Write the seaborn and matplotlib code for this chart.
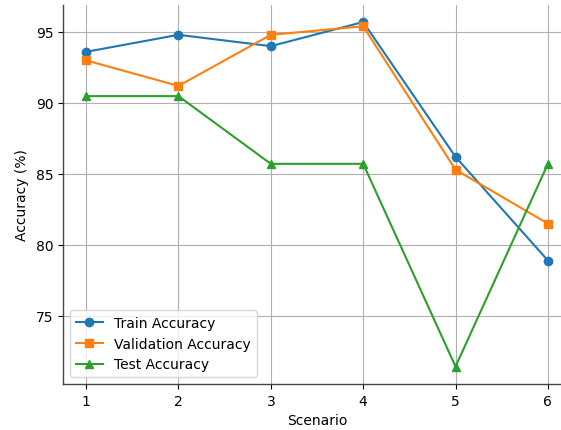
import matplotlib
matplotlib.use("Agg")
import matplotlib.pyplot as plt
import seaborn as sns
import pandas as pd

scenarios = [1, 2, 3, 4, 5, 6]
train_acc = [93.6, 94.8, 94.0, 95.7, 86.2, 78.9]
val_acc = [93.0, 91.2, 94.8, 95.4, 85.3, 81.5]
test_acc = [90.48, 90.48, 85.71, 85.71, 71.43, 85.71]
series_names = ["Train Accuracy", "Validation Accuracy", "Test Accuracy"]
series_markers = ["o", "s", "^"]
series_colors = ["#1f77b4", "#ff7f0e", "#2ca02c"]

plt.rcParams['font.family'] = ['DejaVu Sans']
fig = plt.figure(figsize=(5.61, 4.31), dpi=100)
W, H = 561, 431
ax = fig.add_axes([63 / W, 1 - 385 / H, (571 - 63) / W, (385 - 6) / H])

for name, vals, mk, col in zip(series_names, [train_acc, val_acc, test_acc], series_markers, series_colors):
    df = pd.DataFrame({"Scenario": scenarios, "Accuracy": vals})
    sns.lineplot(data=df, x="Scenario", y="Accuracy", ax=ax, label=name,
                 marker=mk, color=col, markersize=6, markeredgecolor=col,
                 markeredgewidth=1, linewidth=1.5)

ax.grid(True, color="#b0b0b0", linewidth=0.8)
ax.set_axisbelow(True)
for s in ["top", "right"]:
    ax.spines[s].set_visible(False)
for s in ["left", "bottom"]:
    ax.spines[s].set_linewidth(1.0)
    ax.spines[s].set_color("#444444")
ax.set_xlim(0.75, 6.25)
ax.set_ylim(70.2, 96.9)
ax.set_xticks(scenarios)
ax.set_yticks([75, 80, 85, 90, 95])
ax.set_xlabel("Scenario")
ax.set_ylabel("Accuracy (%)", labelpad=5)
ax.legend(loc="lower left")

fig.savefig("out.png", dpi=100)
